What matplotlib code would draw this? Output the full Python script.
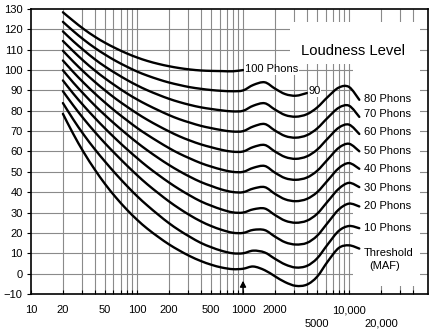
import numpy as np
import matplotlib.pyplot as plt
from matplotlib.patches import Rectangle, PathPatch
from matplotlib.path import Path

plt.rcParams['font.family'] = ['Liberation Sans', 'DejaVu Sans']

# frequency points (Hz) and levels (dB SPL)
freqs = [20, 25, 31.5, 40, 50, 63, 80, 100, 125, 160, 200, 250, 315, 400, 500,
         630, 800, 1000, 1250, 1600, 2000, 2500, 3150, 4000, 5000, 6300, 8000,
         10000, 12500]

threshold = [78.5, 68.7, 59.5, 51.1, 44.0, 37.5, 31.5, 26.5, 22.1, 17.9, 14.4, 11.4,
             8.6, 6.2, 4.4, 3.0, 2.2, 2.4, 3.5, 1.7, -1.3, -4.2, -6.0, -5.4, -1.5,
             6.0, 12.6, 13.9, 12.3]
phon_10 = [83.8, 75.8, 68.2, 61.1, 55.0, 49.0, 43.2, 38.1, 33.5, 28.8, 24.8, 21.3,
           18.1, 15.1, 13.0, 11.2, 10.0, 10.0, 11.3, 10.4, 7.3, 4.5, 3.0, 3.8, 7.5,
           14.4, 21.0, 23.4, 22.3]
phon_20 = [89.6, 82.7, 76.0, 69.6, 64.0, 58.6, 53.2, 48.4, 43.9, 39.4, 35.5, 32.0,
           28.7, 25.7, 23.4, 21.5, 20.1, 20.0, 21.5, 21.4, 18.2, 15.4, 14.3, 15.1,
           18.6, 25.0, 31.5, 34.4, 33.0]
phon_30 = [94.9, 88.5, 82.4, 76.5, 71.3, 66.2, 61.2, 56.8, 52.6, 48.4, 44.8, 41.5,
           38.4, 35.5, 33.4, 31.5, 30.1, 30.0, 31.6, 32.0, 28.8, 26.0, 25.0, 26.0,
           29.4, 35.5, 41.7, 44.6, 42.5]
phon_40 = [99.9, 93.9, 88.2, 82.6, 77.8, 73.1, 68.5, 64.4, 60.6, 56.7, 53.4, 50.4,
           47.6, 45.0, 43.1, 41.3, 40.1, 40.0, 41.8, 42.5, 39.2, 36.5, 35.6, 36.7,
           40.0, 45.8, 51.8, 54.3, 51.5]
phon_50 = [104.7, 99.1, 93.7, 88.5, 84.0, 79.6, 75.4, 71.6, 68.2, 64.7, 61.7, 59.0,
           56.6, 54.3, 52.6, 51.1, 50.0, 50.0, 52.0, 52.9, 49.6, 46.9, 46.1, 47.2,
           50.5, 56.1, 61.8, 63.8, 60.1]
phon_60 = [109.5, 104.2, 99.1, 94.2, 90.0, 85.9, 82.1, 78.7, 75.6, 72.5, 69.9, 67.5,
           65.4, 63.5, 62.1, 60.8, 59.9, 60.0, 62.2, 63.2, 60.0, 57.3, 56.4, 57.6,
           60.9, 66.4, 71.7, 73.2, 68.6]
phon_70 = [114.3, 109.3, 104.4, 99.8, 95.9, 92.2, 88.6, 85.6, 82.9, 80.2, 77.9, 75.9,
           74.2, 72.6, 71.5, 70.5, 69.8, 70.0, 72.3, 73.5, 70.3, 67.6, 66.8, 68.0,
           71.3, 76.6, 81.5, 82.5, 77.0]
phon_80 = [119.0, 114.2, 109.7, 105.3, 101.7, 98.4, 95.2, 92.5, 90.1, 87.8, 85.9, 84.3,
           82.9, 81.7, 80.9, 80.2, 79.7, 80.0, 82.5, 83.7, 80.6, 77.9, 77.1, 78.3,
           81.6, 86.8, 91.4, 91.7, 85.4]
phon_90 = [123.7, 119.2, 114.9, 110.9, 107.6, 104.5, 101.7, 99.3, 97.3, 95.4, 93.9,
           92.7, 91.6, 90.8, 90.2, 89.8, 89.6, 90.0, 92.7, 94.0, 90.9, 88.2, 87.4, 88.7]
phon_100 = [128.4, 124.2, 120.1, 116.4, 113.4, 110.7, 108.2, 106.2, 104.5, 103.0,
            101.9, 101.0, 100.3, 99.8, 99.6, 99.5, 99.4, 100.0]

curves = [threshold, phon_10, phon_20, phon_30, phon_40, phon_50, phon_60,
          phon_70, phon_80, phon_90, phon_100]

right_labels = ["80 Phons", "70 Phons", "60 Phons", "50 Phons", "40 Phons",
                "30 Phons", "20 Phons", "10 Phons", "Threshold"]
right_label_y = [85.7, 78.3, 69.4, 60.0, 51.2, 42.3, 33.0, 22.6, 10.3]

xtick_major = [10, 20, 50, 100, 200, 500, 1000, 2000, 5000, 10000, 20000]
xtick_labels = ["10", "20", "50", "100", "200", "500", "1000", "2000", "\n5000",
                "10,000", "\n20,000"]
xtick_minor = [30, 40, 60, 70, 80, 90, 300, 400, 600, 700, 800, 900, 3000, 4000,
               6000, 7000, 8000, 9000, 30000, 40000]


def smooth_path(xs, ys):
    # cubic bezier through the read points, built in log-frequency space
    pts = np.column_stack([np.log10(xs), ys])
    n = len(pts)
    verts = [pts[0]]
    codes = [Path.MOVETO]
    for i in range(n - 1):
        p0, p1 = pts[max(i - 1, 0)], pts[i]
        p2, p3 = pts[i + 1], pts[min(i + 2, n - 1)]
        verts += [p1 + (p2 - p0) / 6, p2 - (p3 - p1) / 6, p2]
        codes += [Path.CURVE4] * 3
    verts = np.array(verts)
    verts[:, 0] = 10 ** verts[:, 0]
    return Path(verts, codes)


fig = plt.figure(figsize=(4.3, 3.31), dpi=100)
ax = fig.add_axes([0.0721, 0.1118, 0.9233, 0.861])
ax.set_xscale("log")
ax.set_xlim(10, 55600)
ax.set_ylim(-10, 130)

# grid
vgrid = [f for f in xtick_major + xtick_minor if f > 10]
ax.vlines(vgrid, -10, 130, colors="#8a8a8a", lw=0.8, zorder=0.5)
ax.hlines(list(range(0, 130, 10)), 10, 55600, colors="#8a8a8a", lw=0.8, zorder=0.5)

# white areas behind the labels
ax.add_patch(Rectangle((10900, -6), 46800 - 10900, 129.6, facecolor="white",
                       edgecolor="none", zorder=1))
ax.add_patch(Rectangle((2770, 103), 46800 - 2770, 20.6, facecolor="white",
                       edgecolor="none", zorder=1))

for c in curves:
    ax.add_patch(PathPatch(smooth_path(freqs[:len(c)], c), fill=False,
                           edgecolor="black", lw=1.7, joinstyle="round",
                           capstyle="round", zorder=3))

for lab, y in zip(right_labels, right_label_y):
    ax.text(13800, y, lab, fontsize=8, ha="left", va="center", zorder=4)
ax.text(21500, 3.9, "(MAF)", fontsize=8, ha="center", va="center", zorder=4)
ax.text(1045, 100.4, "100 Phons", fontsize=8, ha="left", va="center", zorder=4,
        bbox=dict(facecolor="white", edgecolor="none", pad=0.5))
ax.text(4150, 89.6, "90", fontsize=8, ha="left", va="center", zorder=4,
        bbox=dict(facecolor="white", edgecolor="none", pad=0.5))
ax.text(10900, 109.3, "Loudness Level", fontsize=10.7, ha="center", va="center",
        zorder=4)

ax.annotate("", xy=(1000, -3.5), xytext=(1000, -10),
            arrowprops=dict(arrowstyle="-|>,head_length=0.35,head_width=0.18",
                            color="black", lw=1, shrinkA=0, shrinkB=0), zorder=5)

ax.set_xticks(xtick_major, xtick_labels)
ax.set_xticks(xtick_minor, minor=True)
ax.set_yticks(list(range(-10, 131, 10)))
ax.tick_params(axis="x", which="both", direction="in", length=3, width=0.8,
               top=False, pad=8, labelsize=8)
ax.tick_params(axis="y", direction="out", length=3, width=0.8, right=False,
               pad=3, labelsize=8)
for t in ax.get_xticklabels():
    t.set_linespacing(1.45)
for s in ax.spines.values():
    s.set_linewidth(1.2)
    s.set_zorder(6)

fig.savefig("out.png", dpi=100)
